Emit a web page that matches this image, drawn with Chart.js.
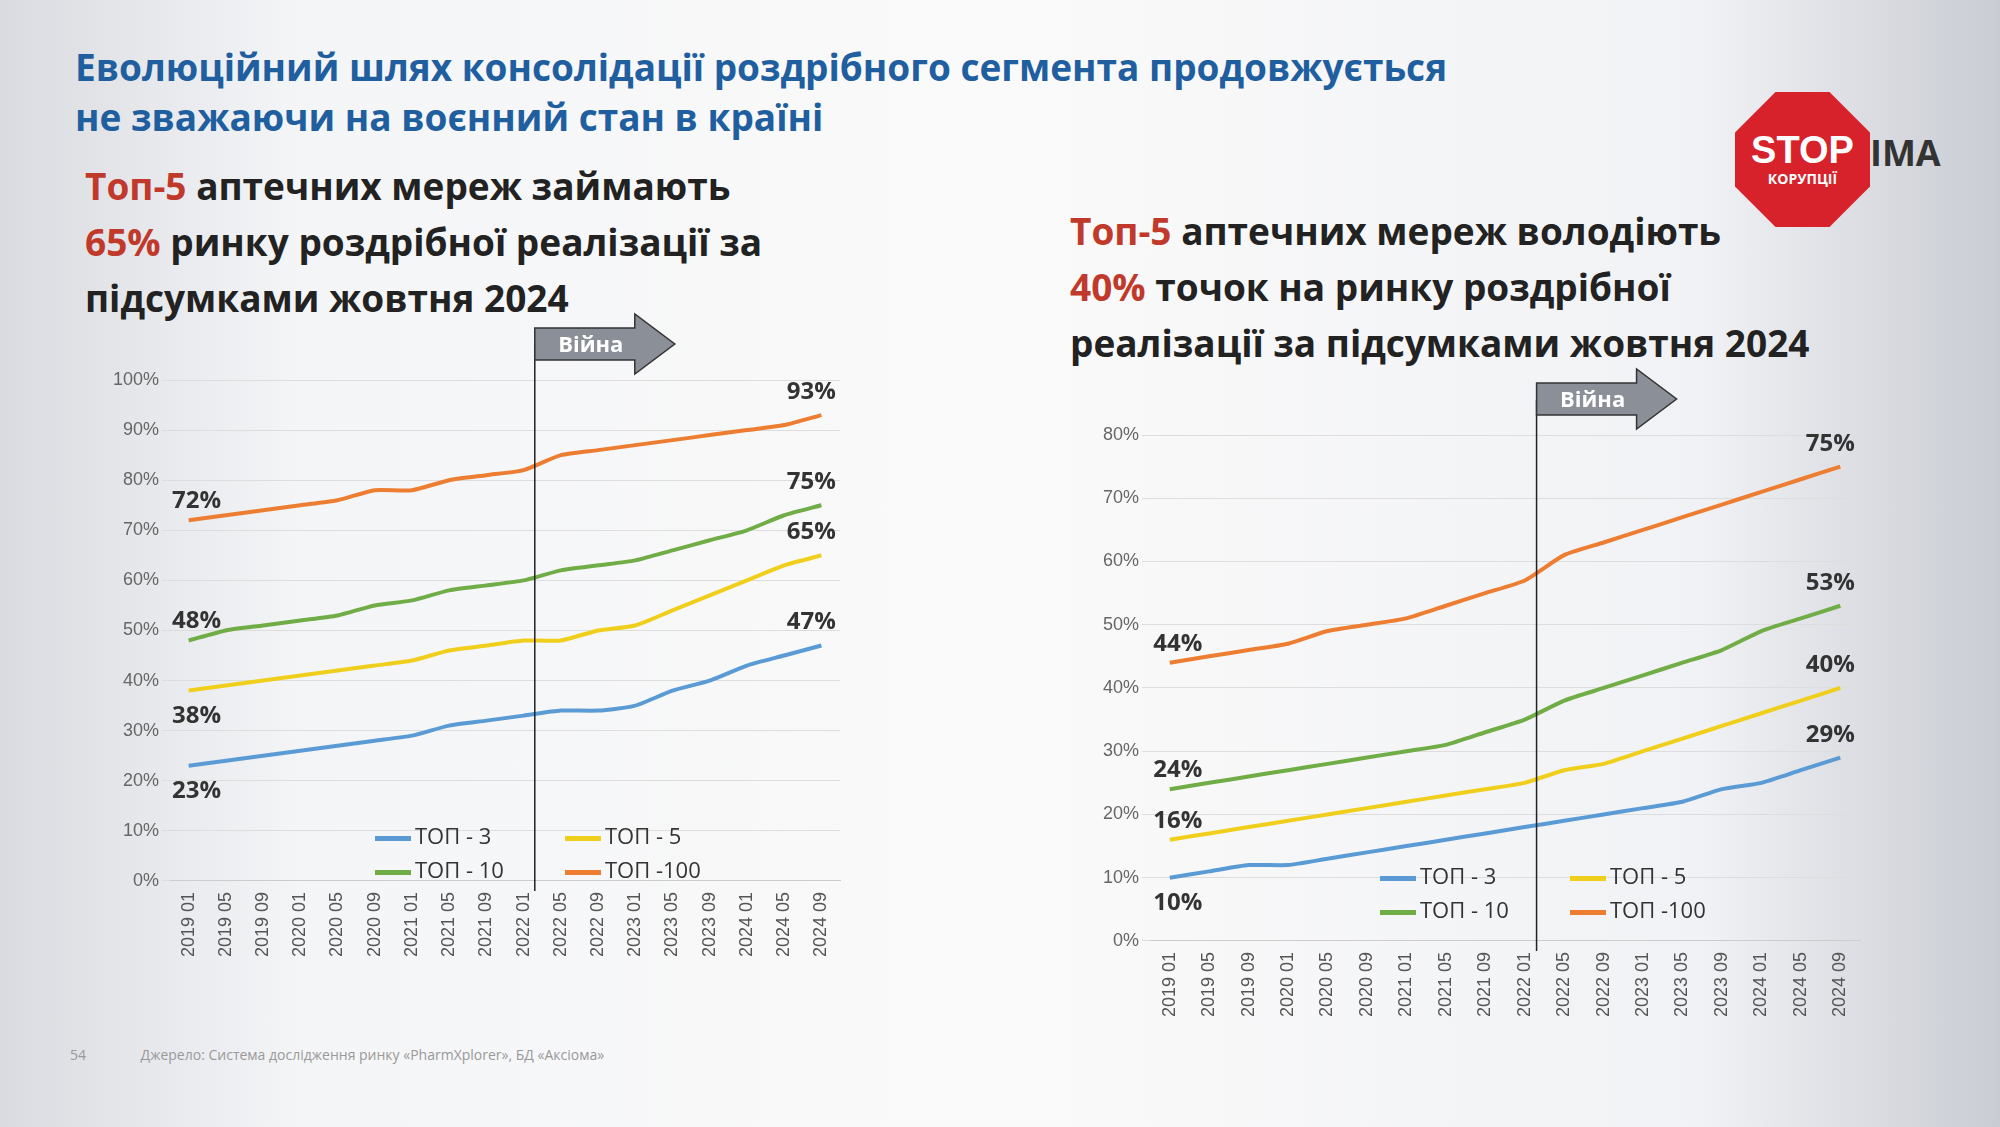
<!DOCTYPE html>
<html><head><meta charset="utf-8">
<script src="https://cdn.jsdelivr.net/npm/chart.js@4"></script>
<style>
body{margin:0;width:2000px;height:1127px;overflow:hidden;font-family:"Open Sans","Noto Sans",sans-serif;
background:linear-gradient(90deg,#d9dbe0 0%,#f4f5f7 15%,#fafafa 50%,#f1f2f5 85%,#c9ccd3 100%);}
.t{position:absolute;font-weight:bold;}
.red{color:#c0392b}
.box{position:absolute}
.leg{position:absolute;font-size:22px;color:#333;display:grid;grid-template-columns:190px 190px;row-gap:4px}
.leg span:before{content:"";display:inline-block;width:36px;height:5px;margin-right:4px;vertical-align:middle;background:var(--c)}
</style></head><body>
<div class="t" style="left:75px;top:42px;font-size:37px;color:#1f5fa0;line-height:50px">Еволюційний шлях консолідації роздрібного сегмента продовжується<br>не зважаючи на воєнний стан в країні</div>
<div class="t" style="left:85px;top:158px;font-size:37px;color:#222;line-height:56px"><span class="red">Топ-5</span> аптечних мереж займають<br><span class="red">65%</span> ринку роздрібної реалізації за<br>підсумками жовтня 2024</div>
<div class="t" style="left:1070px;top:203px;font-size:37px;color:#222;line-height:56px"><span class="red">Топ-5</span> аптечних мереж володіють<br><span class="red">40%</span> точок на ринку роздрібної<br>реалізації за підсумками жовтня 2024</div>
<div class="t" style="left:1870px;top:128px;font-size:36px;color:#333">ІМА</div>
<div style="position:absolute;left:1735px;top:92px;width:135px;height:135px;background:#d7222b;clip-path:polygon(30% 0,70% 0,100% 30%,100% 70%,70% 100%,30% 100%,0 70%,0 30%);display:flex;flex-direction:column;align-items:center;justify-content:center;color:#fff;font-weight:bold">
<div style="font-size:38px;line-height:38px;font-family:'Liberation Sans'">STOP</div><div style="font-size:14px">КОРУПЦІЇ</div></div>
<div class="box" style="left:110px;top:310px;width:760px;height:650px"><canvas id="c1"></canvas></div>
<div class="box" style="left:1100px;top:365px;width:790px;height:655px"><canvas id="c2"></canvas></div>
<div class="leg" style="left:375px;top:820px"><span style="--c:#5b9bd5">ТОП - 3</span><span style="--c:#f0cf1c">ТОП - 5</span><span style="--c:#70ad47">ТОП - 10</span><span style="--c:#ed7d31">ТОП -100</span></div>
<div class="leg" style="left:1380px;top:860px"><span style="--c:#5b9bd5">ТОП - 3</span><span style="--c:#f0cf1c">ТОП - 5</span><span style="--c:#70ad47">ТОП - 10</span><span style="--c:#ed7d31">ТОП -100</span></div>
<div style="position:absolute;left:70px;top:1045px;font-size:14px;color:#999">54 &nbsp;&nbsp;&nbsp;&nbsp;&nbsp;&nbsp;&nbsp;&nbsp;&nbsp;&nbsp;&nbsp;&nbsp;&nbsp;&nbsp;Джерело: Система дослідження ринку «PharmXplorer», БД «Аксіома»</div>
<script>
var periods = ["2019 01","2019 05","2019 09","2020 01","2020 05","2020 09","2021 01","2021 05","2021 09","2022 01","2022 05","2022 09","2023 01","2023 05","2023 09","2024 01","2024 05","2024 09"];
var names = ["ТОП - 3","ТОП - 5","ТОП - 10","ТОП -100"];
var colors = ["#5b9bd5","#f0cf1c","#70ad47","#ed7d31"];
// share of retail sales
var salesTop3   = [23,24,25,26,27,28,29,31,32,33,34,34,35,38,40,43,45,47];
var salesTop5   = [38,39,40,41,42,43,44,46,47,48,48,50,51,54,57,60,63,65];
var salesTop10  = [48,50,51,52,53,55,56,58,59,60,62,63,64,66,68,70,73,75];
var salesTop100 = [72,73,74,75,76,78,78,80,81,82,85,86,87,88,89,90,91,93];
// share of pharmacy points
var pointsTop3   = [10,11,12,12,13,14,15,16,17,18,19,20,21,22,24,25,27,29];
var pointsTop5   = [16,17,18,19,20,21,22,23,24,25,27,28,30,32,34,36,38,40];
var pointsTop10  = [24,25,26,27,28,29,30,31,33,35,38,40,42,44,46,49,51,53];
var pointsTop100 = [44,45,46,47,49,50,51,53,55,57,61,63,65,67,69,71,73,75];
var warIndex = 9.3;

var labelPlugin = {
  id:'lbl',
  afterDatasetsDraw:function(chart){
    var ctx=chart.ctx, o=chart.options.plugins.lbl;
    ctx.save();
    ctx.font='bold 24px "Open Sans"';ctx.fillStyle='#333';ctx.textAlign='center';
    chart.data.datasets.forEach(function(ds,i){
      var pts=chart.getDatasetMeta(i).data, a=pts[0], b=pts[pts.length-1];
      ctx.fillText(ds.data[0]+'%',a.x+8,o.start[i]>0?a.y+32:a.y-12);
      ctx.fillText(ds.data[ds.data.length-1]+'%',b.x-10,b.y-16);
    });
    var x=chart.scales.x.getPixelForValue(warIndex), ca=chart.chartArea;
    ctx.strokeStyle='#222';ctx.lineWidth=1.5;
    ctx.beginPath();ctx.moveTo(x,ca.top-35);ctx.lineTo(x,ca.bottom+10);ctx.stroke();
    var top=ca.top-60;
    ctx.fillStyle='#8a8f98';ctx.strokeStyle='#333';
    ctx.beginPath();ctx.moveTo(x,top+8);ctx.lineTo(x+100,top+8);ctx.lineTo(x+100,top-6);
    ctx.lineTo(x+140,top+24);ctx.lineTo(x+100,top+54);ctx.lineTo(x+100,top+40);ctx.lineTo(x,top+40);ctx.closePath();
    ctx.fill();ctx.stroke();
    ctx.fillStyle='#fff';ctx.font='bold 22px "Open Sans"';ctx.fillText('Війна',x+56,top+32);
    ctx.restore();
  }
};

function make(id,series,max,start){
  new Chart(document.getElementById(id),{
    type:'line',
    data:{labels:periods,datasets:series.map(function(d,i){
      return {label:names[i],data:d,borderColor:colors[i],borderWidth:4,pointRadius:0,tension:0.2,fill:false};
    })},
    options:{responsive:true,maintainAspectRatio:false,animation:false,
      layout:{padding:{top:70,right:30,left:0}},
      plugins:{legend:{display:false},tooltip:{enabled:false},lbl:{start:start}},
      scales:{
        x:{grid:{display:false},border:{color:'#ccc'},offset:true,
           ticks:{minRotation:90,maxRotation:90,color:'#555',font:{size:18}}},
        y:{min:0,max:max,grid:{color:'#ddd'},border:{display:false},
           ticks:{stepSize:10,color:'#666',font:{size:18},callback:function(v){return v+'%';}}}
      }}
    ,plugins:[labelPlugin]});
}
make('c1',[salesTop3,salesTop5,salesTop10,salesTop100],100,[1,1,-1,-1]);
make('c2',[pointsTop3,pointsTop5,pointsTop10,pointsTop100],80,[1,-1,-1,-1]);
</script>
</body></html>
